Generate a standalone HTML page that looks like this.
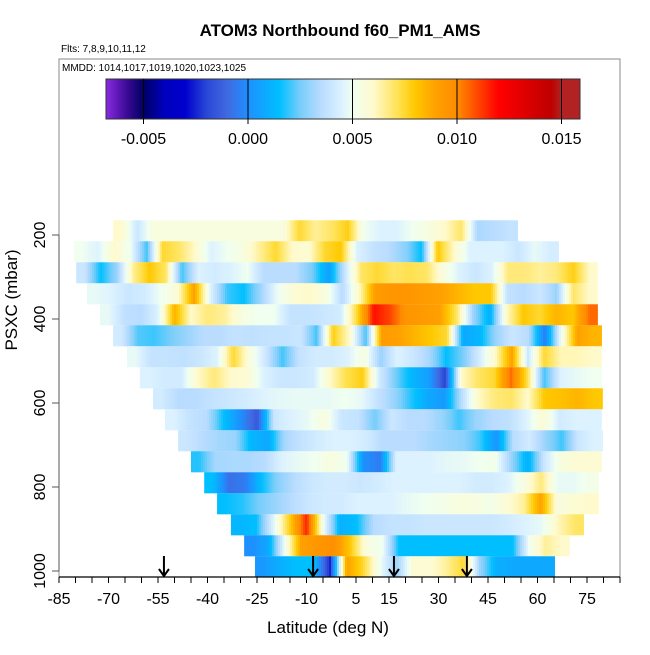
<!DOCTYPE html>
<html><head><meta charset="utf-8"><style>
body{margin:0;background:#fff;}
svg text{font-family:"Liberation Sans",sans-serif;}
</style></head><body>
<svg id="chart" width="650" height="650" xmlns="http://www.w3.org/2000/svg">
<rect x="0" y="0" width="650" height="650" fill="#fff"/>
<text x="340" y="36" font-size="17" font-weight="bold" text-anchor="middle">ATOM3 Northbound f60_PM1_AMS</text>
<text x="61" y="52" font-size="10">Flts: 7,8,9,10,11,12</text>
<rect x="59" y="59" width="561" height="518" fill="none" stroke="#888" stroke-width="1"/>
<text x="62" y="71" font-size="10">MMDD: 1014,1017,1019,1020,1023,1025</text>
<g id="cbar"></g>
<g id="bands"></g>
<g id="axes"></g>
<g id="arrows"></g>
<text x="328" y="633" font-size="17" text-anchor="middle">Latitude (deg N)</text>
<text transform="translate(17,300) rotate(-90)" font-size="17" text-anchor="middle">PSXC (mbar)</text>
</svg>
<script>
const bandPressures=[190,240,290,340,390,440,490,540,590,640,690,740,790,840,890,940,990];
const bandStartLat=[-68.6,-80.5,-79.8,-76.5,-72.6,-68.6,-64.4,-60.5,-56.5,-52.9,-48.9,-45,-41,-37.1,-32.9,-28.9,-25.6];
const bandEndLat=[54.1,66.5,78.3,78.3,78.3,79.5,79.5,79.5,79.8,79.5,79.8,79.5,78.6,78.6,74.1,69.8,65.3];
const bandValues=[
[0.006,0.004,0.0055,0.0055,0.0055,0.0055,0.0055,0.0055,0.0055,0.0055,0.0055,0.0075,0.0065,0.007,0.0078,0.005,0.0045,0.0045,0.005,0.0055,0.006,0.007,0.0033,0.0035,0.0038],
[0.005,0.0045,0.006,0.005,0.002,0.0075,0.007,0.006,0.0045,0.005,0.0055,0.0065,0.0075,0.006,0.0058,0.0075,0.008,0.0045,0.0038,0.0035,0.0028,0.0015,0.008,0.006,0.0045,0.0045,0.0045,0.004,0.0048,0.0043],
[0.004,0.0015,0.003,0.0065,0.008,0.007,0.002,0.0045,0.0042,0.0045,0.005,0.0035,0.0035,0.0035,0.0025,0.0005,0.004,0.007,0.0075,0.007,0.0072,0.007,0.0055,0.0045,0.004,0.0045,0.0068,0.0068,0.0065,0.0068,0.0078,0.006],
[0.0048,0.0045,0.004,0.0042,0.005,0.0058,0.009,0.0045,0.002,0.0015,0.003,0.0048,0.0058,0.006,0.0055,0.0035,0.006,0.0092,0.0095,0.0095,0.0092,0.009,0.0085,0.008,0.008,0.0038,0.0035,0.004,0.003,0.007,0.006],
[0.0048,0.0037,0.0035,0.0045,0.0085,0.006,0.0068,0.0065,0.0055,0.005,0.005,0.0038,0.0038,0.004,0.0042,0.0075,0.0118,0.011,0.0095,0.0093,0.009,0.007,0.003,0.001,0.006,0.008,0.0075,0.0085,0.008,0.0105],
[0.0042,0.0022,0.002,0.0025,0.003,0.0035,0.0035,0.0038,0.0037,0.0038,0.0038,0.004,0.002,0.0078,0.006,0.002,0.0092,0.009,0.0085,0.008,0.0075,0.0008,0.0012,0.003,0.004,0.0035,-0.0005,0.005,0.009,0.0085],
[0.0048,0.0038,0.0038,0.0037,0.004,0.0045,0.0075,0.0055,0.004,0.002,0.0038,0.0042,0.0042,0.0045,0.0055,0.003,0.0045,0.004,0.0032,0.0015,0.0025,0.0042,0.006,0.009,0.004,0.0075,0.0062,0.0062,0.006],
[0.0045,0.0042,0.0042,0.006,0.0068,0.006,0.0058,0.0045,0.004,0.004,0.0042,0.006,0.0072,0.0078,0.0042,0.0025,0.0012,0.0005,-0.002,0.006,0.007,0.0075,0.0105,0.0072,0.002,0.0045,0.0048,0.005],
[0.0042,0.0035,0.0035,0.0038,0.004,0.0042,0.0045,0.0047,0.0048,0.0048,0.0048,0.005,0.0048,0.0038,0.003,0.0018,0.0008,0.0003,0.0035,0.006,0.0068,0.007,0.006,0.008,0.0082,0.0085,0.008],
[0.0045,0.0038,0.0035,0.0015,0.0,-0.0015,0.004,0.0045,0.0048,0.0055,0.004,0.0038,0.0025,0.004,0.0035,0.0035,0.003,0.002,0.003,0.0035,0.0037,0.0045,0.0058,0.0042,0.0045,0.0045],
[0.004,0.0035,0.0032,0.003,0.0012,0.0008,0.0032,0.0038,0.0042,0.0045,0.0045,0.0042,0.0035,0.0035,0.0035,0.0032,0.003,0.0028,0.002,0.0002,0.0035,0.0042,0.003,0.002,0.004,0.0045],
[0.0018,0.0032,0.0033,0.0033,0.0035,0.0045,0.0048,0.005,0.0055,0.005,0.0,-0.0005,0.0045,0.0045,0.0045,0.0047,0.0048,0.005,0.0052,0.003,0.001,0.004,0.0055,0.0058,0.0058],
[0.0015,-0.0008,-0.0005,0.0015,0.0028,0.0035,0.004,0.0042,0.0042,0.004,0.0042,0.0045,0.0045,0.0045,0.0045,0.0045,0.0042,0.0042,0.0045,0.0055,0.0068,0.0048,0.0048,0.0052],
[0.0015,0.0018,0.0025,0.003,0.0035,0.004,0.0042,0.0042,0.0045,0.0045,0.0045,0.0048,0.005,0.0052,0.0055,0.0055,0.0052,0.0058,0.0065,0.009,0.0055,0.0058,0.006],
[0.0012,0.0015,0.0045,0.0078,0.0115,0.005,0.001,0.0015,0.0035,0.0038,0.0038,0.004,0.004,0.004,0.004,0.004,0.0042,0.0045,0.0048,0.0062,0.007],
[0.0,0.0008,0.005,0.009,0.0095,0.0098,0.008,0.0055,0.005,0.0015,0.0015,0.0015,0.0015,0.0015,0.0015,0.0015,0.0015,0.005,0.0065,0.006],
[0.0003,0.001,0.0015,0.0015,-0.0025,0.009,0.0075,0.005,0.003,0.0058,0.0058,0.0065,0.0075,0.003,0.001,0.0008,0.0008,0.0008]
];
const xTickLabels=[-85,-70,-55,-40,-25,-10,5,15,30,45,60,75];
const yTickLabels=[200,400,600,800,1000];
const cbarTickLabels=["-0.005","0.000","0.005","0.010","0.015"];
const cbarTickValues=[-0.005,0,0.005,0.01,0.015];
const arrowLats=[-53.2,-8.0,16.5,38.6];

const NS="http://www.w3.org/2000/svg";
function xs(lat){return 59+(lat+85)*3.3;}
function ys(p){return 235+(p-200)*0.42;}
function cx(v){return 248+v*20900;}
const stops=[[-0.0068,[138,43,226]],[-0.0058,[60,10,150]],[-0.005,[0,0,100]],[-0.004,[0,0,190]],[-0.003,[0,0,205]],[-0.002,[40,70,215]],[-0.001,[65,105,225]],[0,[30,144,255]],[0.0015,[0,191,255]],[0.0025,[120,205,250]],[0.0035,[185,220,255]],[0.0045,[220,242,255]],[0.005,[240,255,240]],[0.006,[255,250,205]],[0.0072,[255,225,80]],[0.008,[255,200,0]],[0.009,[255,160,0]],[0.01,[255,140,0]],[0.012,[255,0,0]],[0.0145,[190,0,0]],[0.015,[178,34,34]],[0.0158,[178,34,34]]];
function col(v){
  if(v<=stops[0][0])return 'rgb('+stops[0][1]+')';
  for(let i=1;i<stops.length;i++){
    if(v<=stops[i][0]){const a=stops[i-1],b=stops[i];const t=(v-a[0])/(b[0]-a[0]);
      const c=a[1].map((q,k)=>Math.round(q+(b[1][k]-q)*t));return 'rgb('+c.join(',')+')';}
  }
  return 'rgb('+stops[stops.length-1][1]+')';
}
function mk(tag,attrs,parent){const e=document.createElementNS(NS,tag);for(const k in attrs)e.setAttribute(k,attrs[k]);parent.appendChild(e);return e;}

// colorbar
const cb=document.getElementById('cbar');
for(let x=106;x<580;x++){
  const v=(x+0.5-248)/20900;
  const r=mk('rect',{x:x,y:79,width:1.2,height:40,fill:col(v)},cb);
  
  
}
const cbf=mk('rect',{x:106,y:79,width:474,height:40,fill:'none',stroke:'#333','stroke-width':1},cb);


cbarTickValues.forEach((v,i)=>{
  const l=mk('line',{x1:cx(v),x2:cx(v),y1:79,y2:124,stroke:'#000','stroke-width':1},cb);
  
  
  const t=mk('text',{x:cx(v),y:144,'font-size':16,'text-anchor':'middle'},cb);
  t.textContent=cbarTickLabels[i];
  
  
});

// bands: interpolated columns between cell centres
const bg=document.getElementById('bands');
bandValues.forEach((vals,b)=>{
  const y0=ys(bandPressures[b]-25),y1=ys(bandPressures[b]+25);
  const s=bandStartLat[b],e=bandEndLat[b],w=(e-s)/vals.length;
  const xa=xs(s),xb=xs(e);
  for(let x=xa;x<xb;x+=2){
    const lat=s+(x+1-xa)/3.3;
    let f=(lat-s)/w-0.5;
    if(f<0)f=0; if(f>vals.length-1)f=vals.length-1;
    const i=Math.floor(f),t=f-i;
    const v=i+1<vals.length?vals[i]*(1-t)+vals[i+1]*t:vals[i];
    const r=mk('rect',{x:x,y:y0,width:Math.min(2.6,xb-x),height:y1-y0,fill:col(v)},bg);
    
    
  }
});

// axes
const ax=document.getElementById('axes');
const xl=mk('line',{x1:59,x2:620,y1:577,y2:577,stroke:'#000','stroke-width':1.2},ax);


for(let lat=-85;lat<=85;lat+=5){
  const t=mk('line',{x1:xs(lat),x2:xs(lat),y1:577,y2:583,stroke:'#000','stroke-width':1},ax);
  
  
}
xTickLabels.forEach(v=>{
  const t=mk('text',{x:xs(v),y:604,'font-size':16,'text-anchor':'middle'},ax);
  t.textContent=String(v);
  
  
});
const yl=mk('line',{x1:59,x2:59,y1:ys(200),y2:ys(1000),stroke:'#555','stroke-width':1},ax);


yTickLabels.forEach(v=>{
  const t=mk('line',{x1:52,x2:59,y1:ys(v),y2:ys(v),stroke:'#555','stroke-width':1},ax);
  
  
  const tx=mk('text',{'font-size':16,'text-anchor':'middle',transform:'translate(45,'+ys(v)+') rotate(-90)'},ax);
  tx.textContent=String(v);
  
  
});

// arrows
const ag=document.getElementById('arrows');
arrowLats.forEach(l=>{
  const x=xs(l);
  const p=mk('path',{d:'M'+x+' 556 L'+x+' 576 M'+(x-5)+' 569 L'+x+' 576 L'+(x+5)+' 569',stroke:'#000','stroke-width':2,fill:'none'},ag);
  
  
});
</script>
</body></html>
